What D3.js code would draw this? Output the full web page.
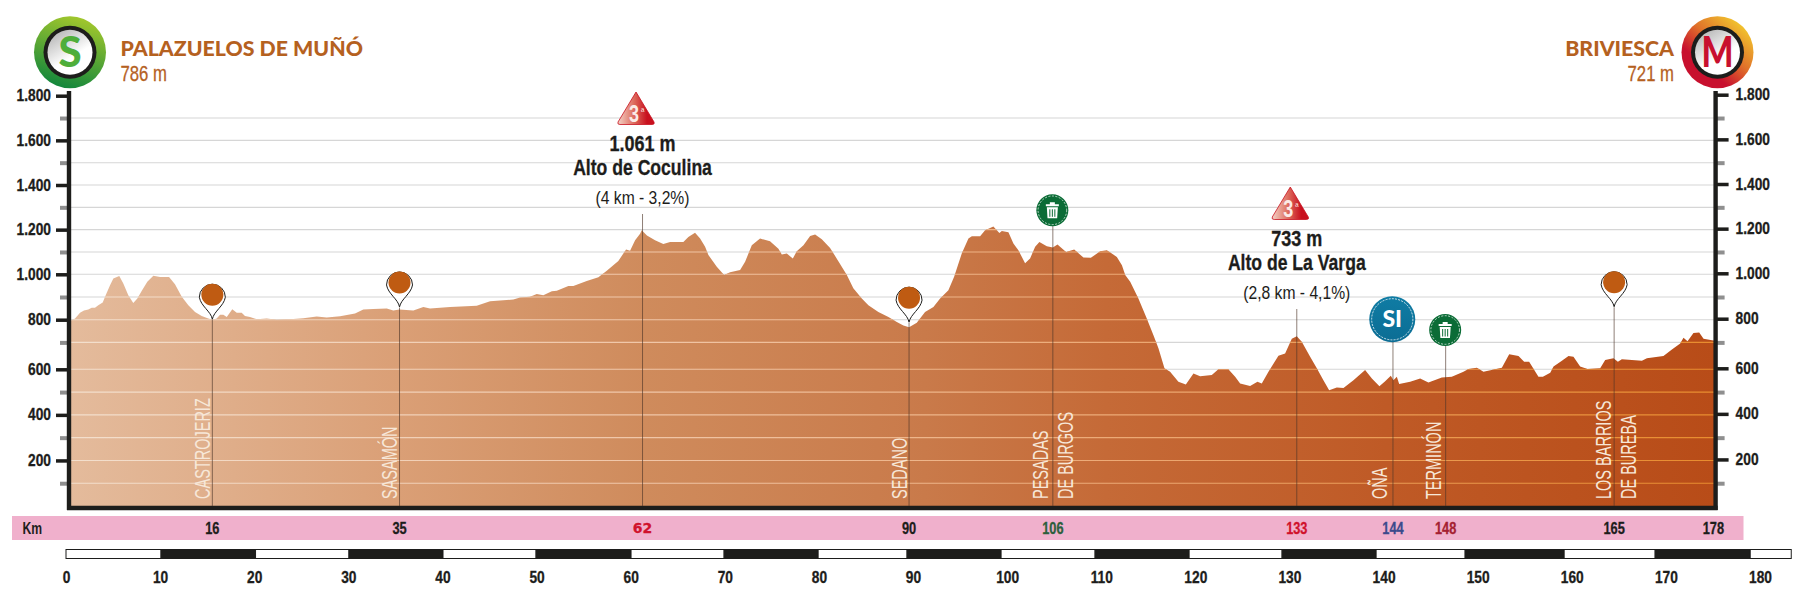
<!DOCTYPE html>
<html>
<head>
<meta charset="utf-8">
<script src="https://cdn.jsdelivr.net/npm/d3@7"></script>
<style>
  body { margin: 0; background: #fff; }
  text { font-family: "Liberation Sans", sans-serif; }
</style>
</head>
<body>
<div id="container"></div>
<script>
/* DATA */
const profileKm = [0.53,0.96,1.49,1.91,2.37,2.73,3.08,3.43,3.9,4.25,4.68,5.03,5.66,6.09,6.62,7.15,7.58,8.04,8.64,9.28,9.99,10.95,11.58,12.3,13,13.71,14.42,15.12,15.59,16.01,16.37,16.72,17.08,17.67,18.14,18.67,19.02,19.55,20.27,21.33,22.39,24.16,25.22,26.64,27.7,29.12,30.71,31.59,32.66,34.08,34.78,35.42,36.91,37.97,38.68,40.81,43.64,45.06,47.53,48.25,49.31,50.02,50.72,51.62,52.15,53.38,53.91,55.33,56.57,57.46,58.69,59.51,59.94,60.47,61,61.18,61.73,62.59,63.47,64.19,65.6,66.13,66.84,67.38,67.91,68.26,69.15,69.93,70.56,71.63,72.16,72.87,73.75,74.81,75.7,76.06,76.59,77.23,77.65,78.36,79.07,79.6,80.31,81.19,82.07,82.97,83.66,84.56,85.26,86.32,87.39,88.28,88.98,89.58,90.4,91.28,92.17,92.88,93.76,94.37,95.18,95.89,96.25,97.13,97.66,98.54,99.18,99.44,100.14,100.67,101.2,101.91,102.44,102.98,103.43,104.22,104.86,105.35,106.27,107.13,108.11,108.9,109.89,110.6,111.66,112.2,112.55,113.08,113.95,114.84,115.55,116.08,116.72,117.32,118.2,118.99,119.8,120.51,121.75,122.45,123.51,124.23,124.76,125.82,126.6,127.06,127.77,128.83,129.54,130.25,130.78,131.31,132.2,132.91,133.61,134.22,135.03,135.74,136.8,138.04,138.76,139.56,140.17,140.77,141.05,141.41,141.66,142.83,143.89,144.77,146.19,147.25,148.49,149.02,149.92,150.62,152.57,153.35,154.34,154.94,155.47,156.46,156.93,157.71,158.06,158.95,159.65,160.18,160.89,161.67,163.02,163.55,164.43,164.9,165.32,167.45,167.98,169.74,170.64,171.52,171.87,172.3,172.93,173.54,174,175.05,175.3];
const profileElev = [797,805,831,841,845,853,853,864,876,911,952,982,992,960,908,874,893,926,967,994,988,988,956,901,864,834,816,805,800,805,822,822,812,846,831,831,816,812,802,805,800,803,806,814,810,815,827,845,847,849,840,845,841,856,849,856,862,881,889,898,901,913,908,925,927,949,948,970,987,1016,1060,1111,1105,1152,1182,1197,1174,1152,1136,1145,1145,1167,1186,1160,1123,1086,1034,997,1009,1019,1056,1130,1160,1148,1115,1089,1093,1071,1103,1130,1171,1178,1157,1118,1059,997,938,893,864,834,812,790,775,767,787,834,856,893,930,989,1093,1160,1170,1170,1197,1214,1185,1194,1188,1138,1108,1049,1071,1123,1145,1126,1120,1133,1100,1111,1075,1074,1103,1108,1078,1041,997,967,893,805,731,678,604,589,545,533,582,570,575,600,600,567,538,527,545,538,589,650,659,716,727,703,647,604,552,508,520,518,552,597,560,526,548,572,552,567,535,545,560,542,564,567,589,601,606,589,606,656,649,628,628,567,567,585,610,632,649,647,610,601,604,635,641,628,637,632,641,649,674,696,720,705,741,744,716,708,708];

const majorTicks = [200,400,600,800,1000,1200,1400,1600,1800];
const minorTicks = [100,300,500,700,900,1100,1300,1500,1700];
const kmTicks = d3.range(0, 181, 10);
const barEdges = [0,10.1,20.14,30.07,40.06,49.95,60.04,69.93,79.92,89.37,99.36,109.35,119.34,129.22,139.21,148.67,159.19,168.86,178.96,183.32];

const kmLabels = ["16","35","62","90","106","133","144","148","165","178"];
const kmLabelPos = [15.55,35.44,61.26,89.58,104.86,130.78,141,146.6,164.5,175.05];
const kmLabelColors = ["#1d1d1b","#1d1d1b","#d0122c","#1d1d1b","#2c5f3c","#d0122c","#3c4a8c","#a51f32","#1d1d1b","#1d1d1b"];

const towns = ["CASTROJERIZ","SASAMÓN","SEDANO","PESADAS","DE BURGOS","OÑA","TERMINÓN","LOS BARRIOS","DE BUREBA"];
const townKm = [15.55,35.44,89.58,104.86,104.86,141,146.6,164.5,164.5];
const townShift = [-2,-3,-2,-5,20,-6,-5,-3,22];

const pinKm = [15.55,35.44,89.58,164.5];
const pinElev = [800,854,787,855]; // where the pin's point sits
const trashKm = [104.86,146.6];
const startName = "PALAZUELOS DE MUÑÓ", startAlt = "786 m";
const finishName = "BRIVIESCA", finishAlt = "721 m";

const climbs = [
  { km: 61.26, name: "Alto de Coculina", alt: "1.061 m", info: "(4 km - 3,2%)", cat: "3", top: 214 },
  { km: 130.78, name: "Alto de La Varga", alt: "733 m", info: "(2,8 km - 4,1%)", cat: "3", top: 309 }
];

/* CONSTANTS */
const width = 1797, height = 611;
const left = 69, right = 1715.6, bottom = 506;
const ink = "#1d1d1b", brown = "#b5611f", orange = "#bf5b12";
const fmt = d3.formatLocale({ decimal: ",", thousands: ".", grouping: [3], currency: ["", ""] }).format(",d");

const x = d3.scaleLinear().domain([0, 180]).range([66, 1760]);
// the printed scale is not quite regular: there is a wider step between 600 and 700
const y = d3.scaleLinear()
  .domain([0, 600, 700, 1000, 1800])
  .range([bottom, 369.3, 342.4, 274.3, 95.7]);

const svg = d3.select("#container").append("svg")
  .attr("width", width)
  .attr("height", height)
  .style("display", "block");

// no condensed font is installed, so squeeze the text sideways
function narrow(sel, k) {
  sel.each(function () {
    const t = d3.select(this);
    const px = +t.attr("x") || 0, py = +t.attr("y") || 0;
    t.attr("x", null).attr("y", null)
      .attr("transform", `translate(${px},${py}) scale(${k},1)`);
  });
}

// squeezing thins the letters, a hairline stroke brings the weight back
function heavy(sel) {
  sel.attr("stroke", function () { return d3.select(this).attr("fill"); })
    .attr("stroke-width", 0.3);
}

/* GRADIENTS */
const defs = svg.append("defs");

function linear(id, stops, x1, x2, user) {
  const g = defs.append("linearGradient").attr("id", id)
    .attr("x1", x1).attr("x2", x2).attr("y1", 0).attr("y2", 0);
  if (user) g.attr("gradientUnits", "userSpaceOnUse");
  stops.forEach(s => g.append("stop").attr("offset", s[0]).attr("stop-color", s[1]));
  return g;
}

linear("profileFill", [[0, "#e4bb9c"], [0.2, "#da9f76"], [0.35, "#cf8b5c"], [0.52, "#c97a4a"], [0.63, "#c56a37"], [0.8, "#bf5a26"], [1, "#b84c18"]], left, right, true);
linear("gridOver", [[0, "#f3dfcd"], [0.35, "#f0c6a8"], [0.65, "#eca873"], [1, "#e88c2e"]], left, right, true);

const startGrad = defs.append("linearGradient").attr("id", "startRing")
  .attr("x1", 0.7).attr("y1", 0).attr("x2", 0.4).attr("y2", 1);
startGrad.append("stop").attr("offset", 0).attr("stop-color", "#a6c92c");
startGrad.append("stop").attr("offset", 1).attr("stop-color", "#12863c");

const finishGrad = defs.append("linearGradient").attr("id", "finishRing")
  .attr("x1", 0.85).attr("y1", 0.1).attr("x2", 0.2).attr("y2", 0.85);
finishGrad.append("stop").attr("offset", 0).attr("stop-color", "#f2c72e");
finishGrad.append("stop").attr("offset", 0.45).attr("stop-color", "#e0702a");
finishGrad.append("stop").attr("offset", 0.8).attr("stop-color", "#c8102e");

const coreGrad = defs.append("linearGradient").attr("id", "core")
  .attr("x1", 0.2).attr("y1", 0).attr("x2", 0.8).attr("y2", 1);
coreGrad.append("stop").attr("offset", 0).attr("stop-color", "#b5b5b5");
coreGrad.append("stop").attr("offset", 0.6).attr("stop-color", "#ffffff");

linear("triangle", [[0, "#f3d2c6"], [0.45, "#dd6a5c"], [0.8, "#c8101e"]], 0, 1);

const siGrad = defs.append("linearGradient").attr("id", "si")
  .attr("x1", 0).attr("y1", 0).attr("x2", 0).attr("y2", 1);
siGrad.append("stop").attr("offset", 0).attr("stop-color", "#0f7ca4");
siGrad.append("stop").attr("offset", 1).attr("stop-color", "#0c6d94");

/* PROFILE AND GRID */
const grid = majorTicks.concat(minorTicks).filter(d => d < 1800);

svg.append("g").selectAll("line")
  .data(grid)
  .join("line")
  .attr("x1", left).attr("x2", right)
  .attr("y1", d => y(d)).attr("y2", d => y(d))
  .attr("stroke", "#d6d6d6")
  .attr("stroke-width", 1.1);

const profile = profileKm.map((km, i) => [km, profileElev[i]]);
const area = d3.area()
  .x(d => x(d[0]))
  .y0(y(0))
  .y1(d => y(d[1]));

defs.append("clipPath").attr("id", "profileClip")
  .append("path").attr("d", area(profile));

svg.append("path")
  .attr("d", area(profile))
  .attr("fill", "url(#profileFill)");

svg.append("g").attr("clip-path", "url(#profileClip)")
  .selectAll("line")
  .data(grid)
  .join("line")
  .attr("x1", left).attr("x2", right)
  .attr("y1", d => y(d)).attr("y2", d => y(d))
  .attr("stroke", "url(#gridOver)")
  .attr("stroke-width", 1.1);

/* AXES */
function styleTicks(g, color, width) {
  g.select(".domain").remove();
  g.selectAll(".tick line").attr("stroke", color).attr("stroke-width", width);
}

svg.append("g").attr("transform", `translate(${left},0)`)
  .call(d3.axisLeft(y).tickValues(minorTicks).tickSize(9).tickFormat(""))
  .call(g => styleTicks(g, "#8f8f8f", 4));

svg.append("g").attr("transform", `translate(${right},0)`)
  .call(d3.axisRight(y).tickValues(minorTicks).tickSize(9).tickFormat(""))
  .call(g => styleTicks(g, "#8f8f8f", 4));

svg.append("g").attr("transform", `translate(${left},0)`)
  .call(d3.axisLeft(y).tickValues(majorTicks).tickSize(13).tickPadding(5).tickFormat(fmt))
  .call(g => styleTicks(g, ink, 3.5))
  .selectAll("text")
  .attr("fill", ink).attr("font-size", 16).attr("font-weight", 700)
  .call(heavy)
  .call(narrow, 0.86);

svg.append("g").attr("transform", `translate(${right},-1)`)
  .call(d3.axisRight(y).tickValues(majorTicks).tickSize(13).tickPadding(7).tickFormat(fmt))
  .call(g => styleTicks(g, ink, 3.5))
  .selectAll("text")
  .attr("fill", ink).attr("font-size", 16).attr("font-weight", 700)
  .call(heavy)
  .call(narrow, 0.86);

svg.selectAll(".frame")
  .data([[left, 91, left, 510], [right, 91, right, 510], [left - 2, 508, right + 2, 508]])
  .join("line")
  .attr("class", "frame")
  .attr("x1", d => d[0]).attr("y1", d => d[1])
  .attr("x2", d => d[2]).attr("y2", d => d[3])
  .attr("stroke", ink)
  .attr("stroke-width", 4.4);

/* MARKER LINES */
function stem(km, top) {
  svg.append("line")
    .attr("x1", x(km)).attr("x2", x(km))
    .attr("y1", top).attr("y2", 506)
    .attr("stroke", "#4d3528")
    .attr("stroke-opacity", 0.7)
    .attr("stroke-width", 0.9);
}

climbs.forEach(d => stem(d.km, d.top));
pinKm.forEach((km, i) => stem(km, y(pinElev[i])));
trashKm.forEach((km, i) => stem(km, i === 0 ? 226 : 346));
stem(141, 342);

/* PINS */
svg.selectAll(".pin")
  .data(pinKm)
  .join("g")
  .attr("class", "pin")
  .attr("transform", (d, i) => `translate(${x(d)},${y(pinElev[i])})`)
  .each(function () {
    const g = d3.select(this);
    g.append("path")
      .attr("d", "M0,0C-1.5,-8 -11.5,-13 -13,-22A13,13 0 1 1 13,-22C11.5,-13 1.5,-8 0,0Z")
      .attr("transform", "translate(0,-0.5)")
      .attr("fill", "#fff")
      .attr("stroke", ink)
      .attr("stroke-width", 1);
    g.append("circle").attr("cy", -25).attr("r", 11).attr("fill", orange);
  });

/* TRASH ZONES */
svg.selectAll(".trash")
  .data(trashKm)
  .join("g")
  .attr("class", "trash")
  .attr("transform", (d, i) => `translate(${x(d) - 0.5},${i === 0 ? 210.3 : 330})`)
  .each(function () {
    const g = d3.select(this);
    g.append("circle").attr("r", 16).attr("fill", "#0b6c36");
    g.append("circle").attr("r", 14.3).attr("fill", "none")
      .attr("stroke", "#fff").attr("stroke-width", 0.7).attr("stroke-dasharray", "2 1.5");
    g.append("path").attr("d", "M-6.5,-6H6.5V-4H-6.5ZM-2.5,-6V-8H2.5V-6").attr("fill", "#fff");
    g.append("path").attr("d", "M-5.5,-3H5.5L4.8,8H-4.8Z").attr("fill", "#fff");
    g.append("path").attr("d", "M-2.5,-1V6.5M0,-1V6.5M2.5,-1V6.5").attr("stroke", "#0b6c36").attr("stroke-width", 1);
  });

/* INTERMEDIATE SPRINT */
const si = svg.append("g").attr("transform", `translate(${x(141) - 0.7},319.3)`);
si.append("circle").attr("r", 23).attr("fill", "url(#si)");
si.append("circle").attr("r", 20.6).attr("fill", "none")
  .attr("stroke", "#fff").attr("stroke-width", 0.8).attr("stroke-dasharray", "2 1.2");
si.append("text").text("SI")
  .attr("text-anchor", "middle").attr("y", 8)
  .attr("fill", "#fff").attr("font-size", 23).attr("font-weight", 900)
  .style("font-family", "Lato");

/* CLIMB LABELS */
climbs.forEach(d => {
  const cx = x(d.km);
  const yOff = d.top - 214;
  const g = svg.append("g").attr("transform", `translate(${cx},${yOff})`);

  const tri = g.append("g").attr("transform", "translate(-6.5,0)");
  tri.append("path")
    .attr("d", "M0,92L18,122Q19,124.5 16,124.5H-16Q-19,124.5 -18,122Z")
    .attr("fill", "url(#triangle)")
    .attr("stroke", "#c8101e")
    .attr("stroke-width", 0.8);
  tri.append("text").text(d.cat)
    .attr("text-anchor", "middle").attr("x", -2).attr("y", 121.5)
    .attr("fill", "#fbeae6").attr("font-size", 24).attr("font-weight", 700)
    .call(narrow, 0.75);
  tri.append("text").text("ª")
    .attr("x", 5).attr("y", 115)
    .attr("fill", "#fbeae6").attr("font-size", 9);

  g.append("text").text(d.alt)
    .attr("text-anchor", "middle").attr("y", 150.5)
    .attr("fill", ink).attr("font-size", 22).attr("font-weight", 700)
    .call(heavy)
    .call(narrow, 0.82);
  g.append("text").text(d.name)
    .attr("text-anchor", "middle").attr("y", 174.5)
    .attr("fill", ink).attr("font-size", 22).attr("font-weight", 700)
    .call(heavy)
    .call(narrow, 0.8);
  g.append("text").text(d.info)
    .attr("text-anchor", "middle").attr("y", 204)
    .attr("fill", ink).attr("font-size", 18)
    .call(narrow, 0.87);
});

/* TOWN LABELS */
svg.selectAll(".town")
  .data(towns)
  .join("text")
  .attr("class", "town")
  .text(d => d)
  .attr("transform", (d, i) => `translate(${x(townKm[i]) + townShift[i]},499) rotate(-90) scale(0.66,1)`)
  .attr("fill", "#f7e7d8")
  .attr("font-size", 22);

/* KM BAND */
svg.append("rect")
  .attr("x", 12).attr("y", 516)
  .attr("width", 1731.5).attr("height", 24)
  .attr("fill", "#f0b0cc");

svg.append("text").text("Km")
  .attr("x", 22.5).attr("y", 534)
  .attr("fill", ink).attr("font-size", 16).attr("font-weight", 700)
  .call(narrow, 0.76);

svg.selectAll(".kmLabel")
  .data(kmLabels)
  .join("text")
  .attr("class", "kmLabel")
  .text(d => d)
  .attr("x", (d, i) => x(kmLabelPos[i]))
  .attr("y", d => d === "62" ? 533 : 534)
  .attr("text-anchor", "middle")
  .attr("fill", (d, i) => kmLabelColors[i])
  .attr("font-size", d => d === "62" ? 14 : 16)
  .attr("font-weight", 700)
  .style("font-family", d => d === "62" ? '"DejaVu Sans"' : null)
  .call(heavy)
  .each(function (d) {
    d3.select(this).call(narrow, d === "62" ? 1 : 0.8);
  });

/* KM SCALE */
svg.append("g").selectAll("rect")
  .data(d3.pairs(barEdges))
  .join("rect")
  .attr("x", d => x(d[0]))
  .attr("y", 549.5)
  .attr("width", d => x(d[1]) - x(d[0]))
  .attr("height", 9)
  .attr("fill", (d, i) => i % 2 ? ink : "#fff")
  .attr("stroke", ink)
  .attr("stroke-width", 1);

svg.append("g")
  .attr("transform", "translate(0,565)")
  .call(d3.axisBottom(x).tickValues(kmTicks).tickSize(0).tickPadding(7))
  .call(g => g.select(".domain").remove())
  .selectAll("text")
  .attr("fill", ink).attr("font-size", 16).attr("font-weight", 700)
  .call(heavy)
  .call(narrow, 0.86);

/* START AND FINISH */
function badge(cx, ring, letter, color) {
  const g = svg.append("g").attr("transform", `translate(${cx},52.3)`);
  g.append("circle").attr("r", 36).attr("fill", `url(#${ring})`);
  g.append("circle").attr("r", 26.5).attr("fill", ink);
  g.append("circle").attr("r", 22.5).attr("fill", "url(#core)");
  g.append("text").text(letter)
    .attr("text-anchor", "middle").attr("y", 15)
    .attr("fill", color).attr("font-size", 42).attr("font-weight", 900)
    .style("font-family", "Lato")
    .call(narrow, letter === "M" ? 0.8 : 1);
}

badge(70, "startRing", "S", "#4fae3a");
badge(1717.5, "finishRing", "M", "#c8102e");

function placeName(px, anchor, name, alt) {
  svg.append("text").text(name)
    .attr("x", px).attr("y", 55.5)
    .attr("text-anchor", anchor)
    .attr("fill", brown).attr("font-size", 21.3).attr("font-weight", 900)
    .style("font-family", "Lato");
  svg.append("text").text(alt)
    .attr("x", px).attr("y", 80.5)
    .attr("text-anchor", anchor)
    .attr("fill", brown).attr("font-size", 22)
    .call(heavy)
    .call(narrow, 0.76);
}

placeName(120.5, "start", startName, startAlt);
placeName(1674, "end", finishName, finishAlt);
</script>
</body>
</html>
